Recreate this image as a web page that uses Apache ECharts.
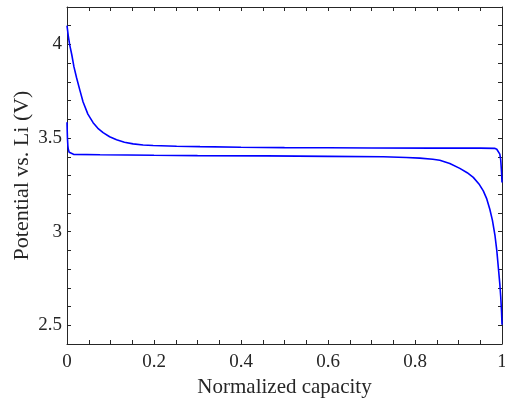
<!DOCTYPE html>
<html>
<head>
<meta charset="utf-8">
<script src="https://cdn.jsdelivr.net/npm/echarts@6/dist/echarts.min.js"></script>
<style>html,body{margin:0;padding:0;background:#fff}#c{width:505px;height:402px}</style>
</head>
<body>
<div id="c"></div>
<script>
// Upper curve: normalized capacity vs potential (V)
const upperX = [0, 0.003, 0.006, 0.011, 0.016, 0.022, 0.03, 0.037, 0.048, 0.06, 0.071, 0.083, 0.098, 0.114, 0.132, 0.152, 0.175, 0.198, 0.252, 0.306, 0.4, 0.5, 0.6, 0.7, 0.841, 0.95, 0.983, 0.988, 0.992, 0.995, 0.997, 0.999, 1.0];
const upperY = [4.10, 4.045, 4.0, 3.945, 3.88, 3.822, 3.752, 3.693, 3.628, 3.582, 3.552, 3.529, 3.507, 3.491, 3.478, 3.469, 3.463, 3.46, 3.456, 3.454, 3.451, 3.449, 3.448, 3.447, 3.446, 3.446, 3.445, 3.44, 3.43, 3.414, 3.385, 3.316, 3.263];
// Lower curve
const lowerX = [0, 0.0005, 0.001, 0.002, 0.003, 0.005, 0.008, 0.015, 0.076, 0.2, 0.3, 0.459, 0.6, 0.727, 0.78, 0.811, 0.841, 0.857, 0.88, 0.903, 0.92, 0.934, 0.947, 0.957, 0.965, 0.972, 0.978, 0.984, 0.988, 0.992, 0.995, 0.997, 0.999, 1.0];
const lowerY = [3.584, 3.54, 3.50, 3.459, 3.44, 3.424, 3.417, 3.413, 3.411, 3.408, 3.406, 3.405, 3.402, 3.40, 3.396, 3.393, 3.387, 3.381, 3.364, 3.338, 3.315, 3.29, 3.255, 3.218, 3.175, 3.12, 3.06, 2.977, 2.90, 2.798, 2.72, 2.655, 2.57, 2.503];
const xTickLabels = ['0', '0.2', '0.4', '0.6', '0.8', '1'];
const yTickLabels = ['2.5', '3', '3.5', '4'];

const FONT = 'Liberation Serif';
const TXT = '#262626';
const pair = (xs, ys) => xs.map((x, i) => [x, ys[i]]);
const near = (v, labels) => labels.find(l => Math.abs(parseFloat(l) - v) < 1e-6);

const axisCommon = {
  axisLine: { show: true, onZero: false, lineStyle: { color: TXT, width: 1 } },
  axisTick: { show: true, inside: true, length: 4, interval: 0, lineStyle: { color: TXT, width: 1 } },
  splitLine: { show: false }
};

const chart = echarts.init(document.getElementById('c'));
chart.setOption({
  animation: false,
  grid: { left: 67, right: 3, top: 7, bottom: 58, containLabel: false, outerBoundsMode: 'none' },
  xAxis: [
    Object.assign({}, axisCommon, {
      type: 'value', min: 0, max: 1, interval: 0.05, position: 'bottom',
      name: 'Normalized capacity', nameLocation: 'middle', nameGap: 33,
      nameTextStyle: { fontFamily: FONT, fontSize: 21, color: TXT },
      axisLabel: { interval: 0, margin: 9, fontFamily: FONT, fontSize: 19, color: TXT,
        formatter: v => near(v, xTickLabels) || '' }
    }),
    Object.assign({}, axisCommon, {
      type: 'value', min: 0, max: 1, interval: 0.05, position: 'top',
      axisLabel: { show: false }
    })
  ],
  yAxis: [
    Object.assign({}, axisCommon, {
      type: 'value', min: 2.4, max: 4.2, interval: 0.1, position: 'left',
      name: 'Potential vs. Li (V)', nameLocation: 'middle', nameGap: 34, nameMoveOverlap: false,
      nameTextStyle: { fontFamily: FONT, fontSize: 22, color: TXT },
      axisLabel: { interval: 0, margin: 5, fontFamily: FONT, fontSize: 19, color: TXT,
        formatter: v => near(v, yTickLabels) || '' }
    }),
    Object.assign({}, axisCommon, {
      type: 'value', min: 2.4, max: 4.2, interval: 0.1, position: 'right',
      axisLabel: { show: false }
    })
  ],
  series: [
    { type: 'line', data: pair(upperX, upperY), smooth: false, showSymbol: false,
      lineStyle: { color: '#0000ff', width: 1.6 }, xAxisIndex: 0, yAxisIndex: 0 },
    { type: 'line', data: pair(lowerX, lowerY), smooth: false, showSymbol: false,
      lineStyle: { color: '#0000ff', width: 1.6 }, xAxisIndex: 0, yAxisIndex: 0 }
  ]
});
</script>
</body>
</html>
